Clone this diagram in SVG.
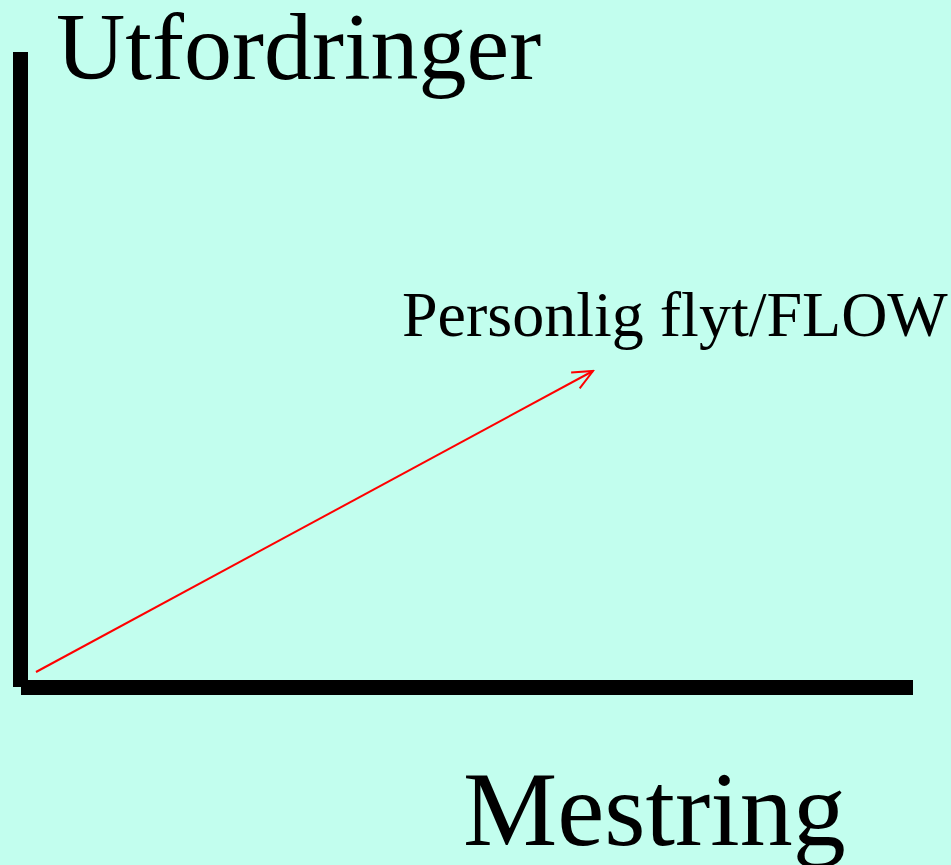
<svg xmlns="http://www.w3.org/2000/svg" width="951" height="865" viewBox="0 0 951 865">
  <style>
    .lbl { font-family: "Liberation Serif", "Times New Roman", serif; fill: #000; }
    .axis { fill: #000; }
    .flow { stroke: #ff0000; stroke-width: 2; fill: none; }
  </style>
  <defs>
    <marker id="arrow" viewBox="0 0 24 20" refX="22" refY="10" markerWidth="24" markerHeight="20" markerUnits="userSpaceOnUse" orient="auto">
      <path d="M2,1 L22,10 L2,19" fill="none" stroke="#ff0000" stroke-width="2"/>
    </marker>
  </defs>
  <rect width="951" height="865" fill="#c2feee"/>
  <g id="axes">
    <rect class="axis" x="13" y="52" width="15" height="635"/>
    <rect class="axis" x="21" y="680" width="892" height="15"/>
  </g>
  <g id="connectors">
    <line class="flow" x1="36" y1="672" x2="593" y2="371" marker-end="url(#arrow)"/>
  </g>
  <g id="label-y">
    <text class="lbl" x="56" y="79" font-size="96">Utfordringer</text>
  </g>
  <g id="label-flow">
    <text class="lbl" x="402" y="336" font-size="64">Personlig flyt/FLOW</text>
  </g>
  <g id="label-x">
    <text class="lbl" x="463" y="845" font-size="106">Mestring</text>
  </g>
</svg>
